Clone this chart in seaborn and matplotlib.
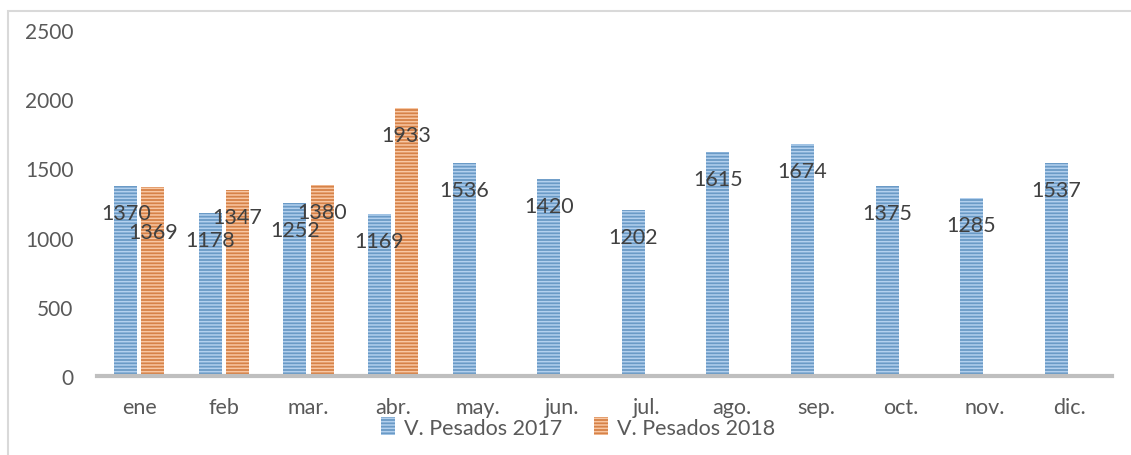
import numpy as np
import pandas as pd
import matplotlib.pyplot as plt
import seaborn as sns
from matplotlib.patches import Rectangle

# datos
meses = ['ene', 'feb', 'mar.', 'abr.', 'may.', 'jun.', 'jul.', 'ago.', 'sep.', 'oct.', 'nov.', 'dic.']
pesados_2017 = [1370, 1178, 1252, 1169, 1536, 1420, 1202, 1615, 1674, 1375, 1285, 1537]
pesados_2018 = [1369, 1347, 1380, 1933]
series = ['V. Pesados 2017', 'V. Pesados 2018']

sns.set_style('white')
plt.rcParams['font.family'] = ['Lato', 'DejaVu Sans']
plt.rcParams['hatch.linewidth'] = 1.1

df = pd.DataFrame({
    'mes': meses + meses[:len(pesados_2018)],
    'valor': pesados_2017 + pesados_2018,
    'serie': [series[0]] * len(pesados_2017) + [series[1]] * len(pesados_2018),
})

colores = {series[0]: '#5B9BD5', series[1]: '#ED7D31'}
rayas = {series[0]: '#b3d0ee', series[1]: '#f8c7a3'}

fig = plt.figure(figsize=(11.31, 4.56), dpi=100)
ax = fig.add_axes([0.0858, 0.1732, 0.8974, 0.7588])

sns.barplot(data=df, x='mes', y='valor', hue='serie', order=meses, hue_order=series,
            palette=colores, width=0.64, gap=0.15, linewidth=0, ax=ax)

# rayado horizontal tipo Excel
for cont, s in zip(ax.containers, series):
    for p in cont:
        p.set_hatch('-----')
        p.set_edgecolor(rayas[s])
        p.set_linewidth(0)

# etiquetas de datos (posición manual como en el original)
desplaz = {(1, 0): -45}
for i, (cont, vals) in enumerate(zip(ax.containers, [pesados_2017, pesados_2018])):
    for j, (p, v) in enumerate(zip(cont, vals)):
        off = desplaz.get((i, j), -27)
        ax.annotate(str(v), (p.get_x() + p.get_width() / 2, p.get_height()),
                    xytext=(0, off * 0.72), textcoords='offset points',
                    ha='center', va='center', fontsize=15.5, color='#404040')

ax.set_ylim(0, 2500)
ax.set_yticks(range(0, 2501, 500))
ax.set_xlim(-0.5, 11.5)
ax.set_xlabel('')
ax.set_ylabel('')
ax.tick_params(axis='y', length=0, pad=17, labelsize=15, labelcolor='#595959')
ax.tick_params(axis='x', length=0, pad=15, labelsize=15.5, labelcolor='#595959')
for s in ['top', 'right', 'left']:
    ax.spines[s].set_visible(False)
ax.spines['bottom'].set_color('#bfbfbf')
ax.spines['bottom'].set_linewidth(3)

leg = ax.get_legend()
if leg is not None:
    leg.remove()
handles = [ax.containers[0][0], ax.containers[1][0]]
fig.legend(handles, series, loc='center', bbox_to_anchor=(0.511, 0.06), ncol=2,
           frameon=False, fontsize=15.5, labelcolor='#595959', handlelength=0.65,
           handleheight=0.9, handletextpad=0.4, columnspacing=1.5)

# marco del gráfico
fig.patches.append(Rectangle((8 / 1131, -0.01), 1.02, 1 - 12 / 456 + 0.01,
                             transform=fig.transFigure, fill=False,
                             edgecolor='#d9d9d9', linewidth=1.5))

fig.savefig('out.png', dpi=100)
